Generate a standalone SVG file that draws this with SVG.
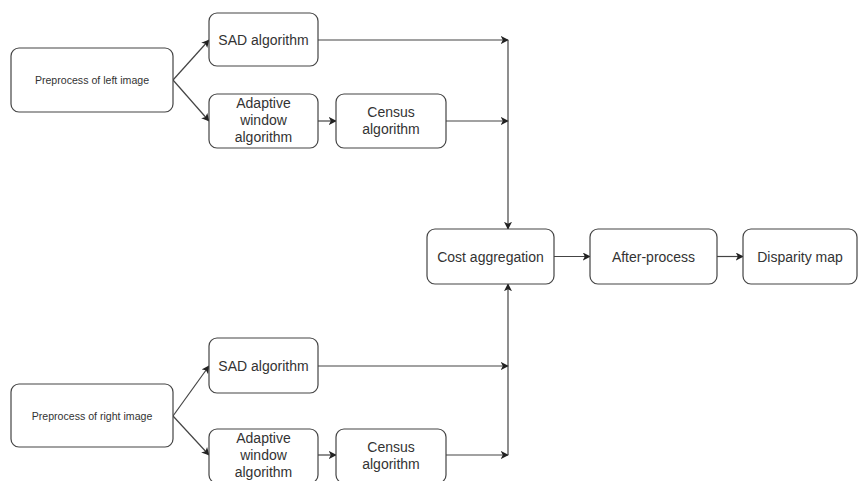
<svg xmlns="http://www.w3.org/2000/svg" width="859" height="481" viewBox="0 0 859 481">
<defs>
<marker id="arr" viewBox="0 0 10 10" refX="9" refY="5" markerWidth="8" markerHeight="8" orient="auto" markerUnits="userSpaceOnUse">
<path d="M0,0 L10,5 L0,10 L2.5,5 Z" fill="#222"/>
</marker>
<style>
.box{fill:#fff;stroke:#444;stroke-width:1.2}
.t{font-family:"Liberation Sans",Arial,sans-serif;font-size:14px;fill:#333;text-anchor:middle}
.s{font-family:"Liberation Sans",Arial,sans-serif;font-size:10.6px;fill:#333;text-anchor:middle}
.c{fill:none;stroke:#444;stroke-width:1.2;marker-end:url(#arr)}
.l{fill:none;stroke:#444;stroke-width:1.2}
</style>
</defs>
<rect width="859" height="481" fill="#fff"/>
<g id="connectors">
<path class="c" d="M173,80 L209,40"/>
<path class="c" d="M173,80 L209,121"/>
<path class="c" d="M318,121 L336,121"/>
<path class="c" d="M318,40 L508,40"/>
<path class="c" d="M446,121 L508,121"/>
<path class="c" d="M508,40 L508,229"/>
<path class="c" d="M173,416 L209,366"/>
<path class="c" d="M173,416 L209,455"/>
<path class="c" d="M318,455 L336,455"/>
<path class="c" d="M318,366 L508,366"/>
<path class="c" d="M446,455 L508,455"/>
<path class="c" d="M508,455 L508,284"/>
<path class="c" d="M554,256.5 L590,256.5"/>
<path class="c" d="M717,256.5 L743,256.5"/>
</g>
<g id="pre-left"><rect class="box" x="11" y="48" width="162" height="64" rx="8"/><text class="s" x="92" y="84">Preprocess of left image</text></g>
<g id="sad-top"><rect class="box" x="209" y="13" width="109" height="53" rx="8"/><text class="t" x="263.5" y="44.5">SAD algorithm</text></g>
<g id="adaptive-top"><rect class="box" x="209" y="94" width="109" height="54" rx="8"/><text class="t" x="263.5" y="108">Adaptive</text><text class="t" x="263.5" y="125">window</text><text class="t" x="263.5" y="142">algorithm</text></g>
<g id="census-top"><rect class="box" x="336" y="94" width="110" height="54" rx="8"/><text class="t" x="391" y="117">Census</text><text class="t" x="391" y="134">algorithm</text></g>
<g id="cost"><rect class="box" x="427" y="229" width="127" height="55" rx="8"/><text class="t" x="490.5" y="261.5">Cost aggregation</text></g>
<g id="after"><rect class="box" x="590" y="229" width="127" height="55" rx="8"/><text class="t" x="653.5" y="261.5">After-process</text></g>
<g id="disparity"><rect class="box" x="743" y="229" width="114" height="55" rx="8"/><text class="t" x="800" y="261.5">Disparity map</text></g>
<g id="pre-right"><rect class="box" x="11" y="384" width="162" height="63" rx="8"/><text class="s" x="92" y="420">Preprocess of right image</text></g>
<g id="sad-bottom"><rect class="box" x="209" y="338" width="109" height="55" rx="8"/><text class="t" x="263.5" y="370.5">SAD algorithm</text></g>
<g id="adaptive-bottom"><rect class="box" x="209" y="429" width="109" height="54" rx="8"/><text class="t" x="263.5" y="443">Adaptive</text><text class="t" x="263.5" y="460">window</text><text class="t" x="263.5" y="477">algorithm</text></g>
<g id="census-bottom"><rect class="box" x="336" y="429" width="110" height="54" rx="8"/><text class="t" x="391" y="452">Census</text><text class="t" x="391" y="469">algorithm</text></g>
</svg>
